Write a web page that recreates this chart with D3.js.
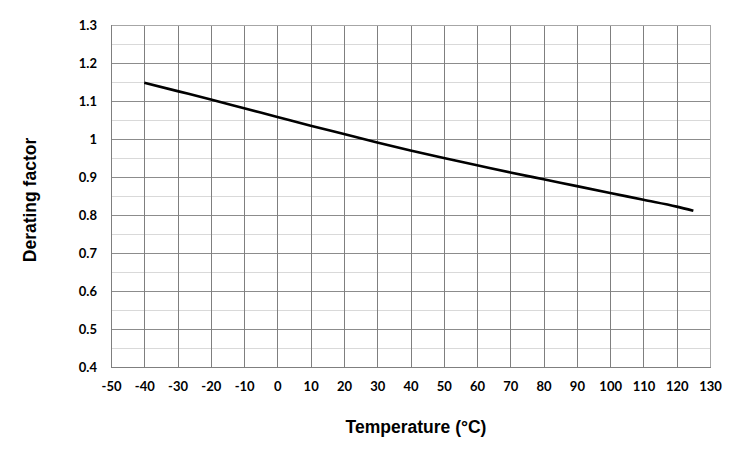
<!DOCTYPE html>
<html>
<head>
<meta charset="utf-8">
<script src="https://cdn.jsdelivr.net/npm/d3@7"></script>
<style>
  body { margin: 0; background: #fff; }
  svg { display: block; }
</style>
</head>
<body>
<svg id="chart" width="747" height="453"></svg>
<script>
const temperatures = [-40, -30, -20, -10, 0, 10, 20, 30, 40, 50, 60, 70, 80, 90, 100, 110, 120, 125];
const deratingFactor = [1.148, 1.126, 1.104, 1.081, 1.058, 1.035, 1.013, 0.991, 0.970, 0.950, 0.931, 0.912, 0.894, 0.876, 0.858, 0.840, 0.822, 0.811];
const xTicks = [-50, -40, -30, -20, -10, 0, 10, 20, 30, 40, 50, 60, 70, 80, 90, 100, 110, 120, 130];
const yTicks = [0.4, 0.5, 0.6, 0.7, 0.8, 0.9, 1.0, 1.1, 1.2, 1.3];
const yMinorTicks = [0.45, 0.55, 0.65, 0.75, 0.85, 0.95, 1.05, 1.15, 1.25];

const svg = d3.select("#chart");
const m = { left: 111, top: 25, right: 710, bottom: 367 };
const x = d3.scaleLinear().domain([-50, 130]).range([m.left, m.right]);
const y = d3.scaleLinear().domain([0.4, 1.3]).range([m.bottom, m.top]);

// minor horizontal grid
svg.append("g").selectAll("line").data(yMinorTicks).join("line")
  .attr("x1", m.left).attr("x2", m.right)
  .attr("y1", d => Math.round(y(d)) + 0.5).attr("y2", d => Math.round(y(d)) + 0.5)
  .attr("stroke", "#d9d9d9").attr("stroke-width", 1);

// major horizontal grid
svg.append("g").selectAll("line").data(yTicks).join("line")
  .attr("x1", m.left).attr("x2", m.right)
  .attr("y1", d => Math.round(y(d)) + 0.5).attr("y2", d => Math.round(y(d)) + 0.5)
  .attr("stroke", "#8c8c8c").attr("stroke-width", 1);

// vertical grid
svg.append("g").selectAll("line").data(xTicks).join("line")
  .attr("x1", d => Math.round(x(d)) + 0.5).attr("x2", d => Math.round(x(d)) + 0.5)
  .attr("y1", m.top).attr("y2", m.bottom)
  .attr("stroke", "#7f7f7f").attr("stroke-width", 1);

// plot border
svg.append("rect")
  .attr("x", m.left + 0.5).attr("y", m.top + 0.5)
  .attr("width", m.right - m.left).attr("height", m.bottom - m.top)
  .attr("fill", "none").attr("stroke", "#a6a6a6");
svg.append("line").attr("x1", m.left + 0.5).attr("x2", m.left + 0.5)
  .attr("y1", m.top).attr("y2", m.bottom + 0.5).attr("stroke", "#7f7f7f");
svg.append("line").attr("x1", m.left).attr("x2", m.right + 1)
  .attr("y1", m.bottom + 0.5).attr("y2", m.bottom + 0.5).attr("stroke", "#7f7f7f");

// axes labels via d3 axes (domain/ticks hidden)
const tickFont = "Lato, 'Open Sans', sans-serif";
const yAxis = svg.append("g").attr("transform", `translate(${m.left},0)`)
  .call(d3.axisLeft(y).tickValues(yTicks).tickSize(0).tickPadding(14)
    .tickFormat(d => String(+d.toFixed(1))));
yAxis.select(".domain").remove();
yAxis.selectAll("text").attr("font-family", tickFont).attr("font-weight", 700)
  .attr("font-size", 13).attr("fill", "#000");

const xAxis = svg.append("g").attr("transform", `translate(0,${m.bottom})`)
  .call(d3.axisBottom(x).tickValues(xTicks).tickSize(0).tickPadding(15).tickFormat(d => String(d)));
xAxis.select(".domain").remove();
xAxis.selectAll("text").attr("font-family", tickFont).attr("font-weight", 700)
  .attr("font-size", 13).attr("fill", "#000");

// data line
const line = d3.line().x((d, i) => x(temperatures[i])).y(d => y(d)).curve(d3.curveMonotoneX);
svg.append("path").datum(deratingFactor)
  .attr("d", line).attr("fill", "none").attr("stroke", "#000").attr("stroke-width", 2.6)
  .attr("stroke-linecap", "butt");

// axis titles
svg.append("text").attr("x", 416).attr("y", 433)
  .attr("text-anchor", "middle").attr("font-family", "'Liberation Sans', Arial, sans-serif")
  .attr("font-weight", 700).attr("font-size", 17.5).text("Temperature (°C)");
svg.append("text").attr("transform", "translate(36,200) rotate(-90)")
  .attr("text-anchor", "middle").attr("font-family", "'Liberation Sans', Arial, sans-serif")
  .attr("font-weight", 700).attr("font-size", 17.5).text("Derating factor");
</script>
</body>
</html>
